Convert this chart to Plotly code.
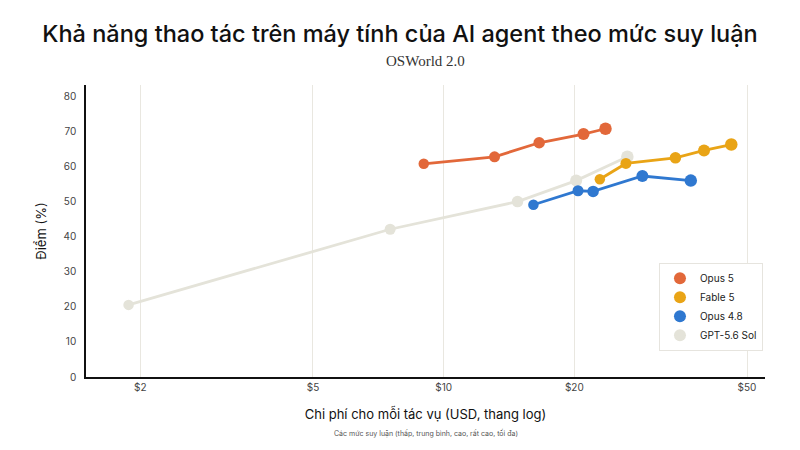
import math
import plotly.graph_objects as go

# ---- data ----
series_names = ["Opus 5", "Fable 5", "Opus 4.8", "GPT-5.6 Sol"]
opus5_cost = [9.0, 13.1, 16.6, 21.0, 23.6]
opus5_score = [60.9, 62.9, 66.9, 69.4, 70.9]
fable5_cost = [22.9, 26.3, 34.2, 39.8, 46.0]
fable5_score = [56.5, 61.0, 62.6, 64.7, 66.4]
opus48_cost = [16.1, 20.4, 22.1, 28.7, 37.1]
opus48_score = [49.2, 53.2, 53.0, 57.4, 56.1]
gpt_cost = [1.88, 7.53, 14.8, 20.2, 26.5]
gpt_score = [20.6, 42.2, 50.1, 56.1, 62.9]
x_tick_vals = [2, 5, 10, 20, 50]
x_tick_text = ["$2", "$5", "$10", "$20", "$50"]
y_tick_vals = [0, 10, 20, 30, 40, 50, 60, 70, 80]

# ---- styles ----
colors = {"Opus 5": "#E2683A", "Fable 5": "#E9A416", "Opus 4.8": "#2F78D0", "GPT-5.6 Sol": "#E4E3D9"}
marker_sizes = [10.5, 11, 11.5, 12, 12.5]
FONT = "Inter, 'Open Sans', sans-serif"

data = {
    "Opus 5": (opus5_cost, opus5_score),
    "Fable 5": (fable5_cost, fable5_score),
    "Opus 4.8": (opus48_cost, opus48_score),
    "GPT-5.6 Sol": (gpt_cost, gpt_score),
}

fig = go.Figure()
for name in reversed(series_names):
    xs, ys = data[name]
    fig.add_trace(go.Scatter(
        x=xs, y=ys, name=name, mode="lines+markers", showlegend=False,
        line=dict(color=colors[name], width=2.8),
        marker=dict(color=colors[name], size=marker_sizes[:len(xs)], opacity=1, line=dict(width=0)),
    ))
# legend entries (markers only)
for name in series_names:
    fig.add_trace(go.Scatter(
        x=[None], y=[None], name=name, mode="markers",
        marker=dict(color=colors[name], size=12, opacity=1),
    ))

H, T, B = 450, 85, 73
plot_h = H - T - B
def ypaper(py):
    return (H - B - py) / plot_h

fig.update_layout(
    width=800, height=450,
    margin=dict(l=86, r=35, t=T, b=B),
    paper_bgcolor="white", plot_bgcolor="white",
    font=dict(family=FONT, color="#222"),
    title=dict(
        text="Khả năng thao tác trên máy tính của AI agent theo mức suy luận",
        x=0.5, xanchor="center", y=1 - 34 / H, yanchor="middle",
        font=dict(size=23.5, color="#111", family=FONT, weight=500),
    ),
    xaxis=dict(
        type="log", range=[math.log10(1.5), math.log10(55)],
        tickvals=x_tick_vals, ticktext=x_tick_text,
        showgrid=True, gridcolor="#E9E7E0", gridwidth=1,
        showline=True, linecolor="#111", linewidth=1.5,
        ticks="", tickfont=dict(size=10, color="#444"),
        zeroline=False,
        title=dict(text="Chi phí cho mỗi tác vụ (USD, thang log)", font=dict(size=13, color="#111"), standoff=18),
    ),
    yaxis=dict(
        range=[0, 83.4], tickvals=y_tick_vals,
        showgrid=False, showline=True, linecolor="#111", linewidth=1.5,
        ticks="", tickfont=dict(size=10, color="#444"), zeroline=False,
        ticklabelstandoff=6,
        title=dict(text="Điểm (%)", font=dict(size=13, color="#111"), standoff=14),
    ),
    legend=dict(
        x=0.997, xanchor="right", y=0.09, yanchor="bottom",
        bgcolor="white", bordercolor="#E6E4DE", borderwidth=1,
        font=dict(size=10, color="#222"), itemsizing="constant",
        itemwidth=30, tracegroupgap=2,
    ),
)
fig.add_annotation(text="OSWorld 2.0", x=0.5, xref="paper", y=ypaper(61), yref="paper",
                   yanchor="middle", showarrow=False,
                   font=dict(size=15, color="#333", family="'Liberation Serif', serif"))
fig.add_annotation(text="Các mức suy luận (thấp, trung bình, cao, rất cao, tối đa)",
                   x=0.5, xref="paper", y=ypaper(433), yref="paper", yanchor="middle",
                   showarrow=False, font=dict(size=7, color="#555"))

fig.write_html("out.html")
